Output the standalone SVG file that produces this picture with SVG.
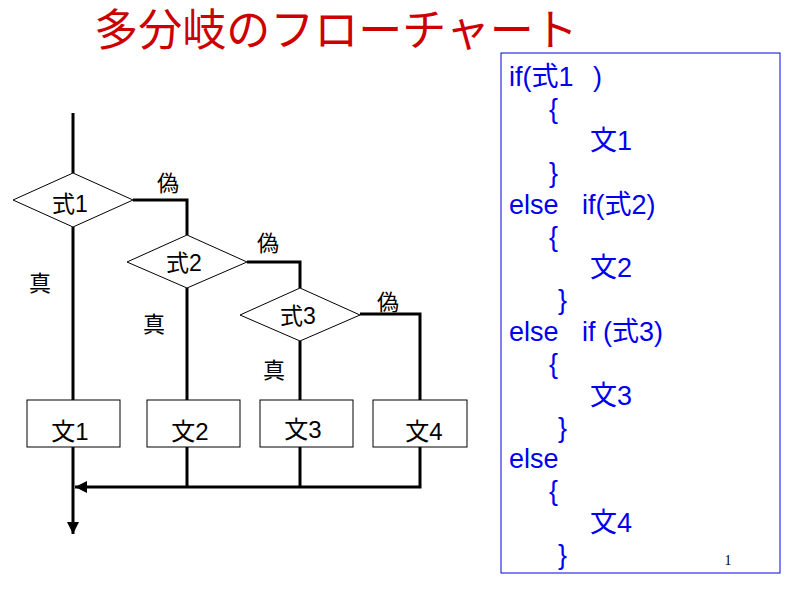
<svg xmlns="http://www.w3.org/2000/svg" width="800" height="600" viewBox="0 0 800 600">
<style>
.t{font-family:"Liberation Sans","Noto Sans CJK JP",sans-serif;fill:#000}
.n{font-size:24px;text-anchor:middle}
.dn{font-size:23px;text-anchor:middle}
.lb{font-size:22px;text-anchor:middle}
.c{font-family:"Liberation Sans","Noto Sans CJK JP",sans-serif;font-size:27px;fill:#0000EE}
.shape{fill:#fff;stroke:#000;stroke-width:1}
.ln{fill:none;stroke:#000;stroke-width:3}
</style>
<defs>
<marker id="ah" viewBox="0 0 10 10" refX="10" refY="5" markerWidth="4.3" markerHeight="4" orient="auto" markerUnits="strokeWidth">
<path d="M0,0 L10,5 L0,10 Z" fill="#000"/>
</marker>
</defs>
<rect width="800" height="600" fill="#fff"/>
<text x="336" y="46" text-anchor="middle" font-family="'Noto Sans CJK JP',sans-serif" font-size="44" fill="#CC0000">多分岐のフローチャート</text>

<g id="connectors">
<path class="ln" d="M73,113 V173"/>
<path class="ln" d="M73,227 V400"/>
<path class="ln" d="M73,447 V534" marker-end="url(#ah)"/>
<path class="ln" d="M133,200 H187 V235"/>
<path class="ln" d="M187,288 V400"/>
<path class="ln" d="M247,262 H300 V288"/>
<path class="ln" d="M300,341 V400"/>
<path class="ln" d="M360,314 H420 V400"/>
<path class="ln" d="M187,447 V487"/>
<path class="ln" d="M300,447 V487"/>
<path class="ln" d="M420,447 V487 H75" marker-end="url(#ah)"/>
</g>
<g id="labels">
<text class="t lb" x="168" y="191">偽</text>
<text class="t lb" x="268" y="251">偽</text>
<text class="t lb" x="388" y="310">偽</text>
<text class="t lb" x="40" y="291">真</text>
<text class="t lb" x="154" y="332">真</text>
<text class="t lb" x="274" y="378">真</text>
</g>
<g id="d1"><polygon class="shape" points="73,173 133,200 73,227 13,200"/><text class="t dn" x="70" y="212">式1</text></g>
<g id="d2"><polygon class="shape" points="187,235 247,262 187,288 127,262"/><text class="t dn" x="184" y="271">式2</text></g>
<g id="d3"><polygon class="shape" points="300,288 360,315 300,341 240,315"/><text class="t dn" x="298" y="324">式3</text></g>
<g id="b1"><rect class="shape" x="27" y="400" width="93" height="47"/><text class="t n" x="70" y="440">文1</text></g>
<g id="b2"><rect class="shape" x="147" y="400" width="93" height="47"/><text class="t n" x="190" y="440">文2</text></g>
<g id="b3"><rect class="shape" x="260" y="400" width="93" height="47"/><text class="t n" x="303" y="438">文3</text></g>
<g id="b4"><rect class="shape" x="373" y="400" width="94" height="47"/><text class="t n" x="424" y="440">文4</text></g>

<g id="code">
<rect x="501" y="53" width="279" height="520" fill="none" stroke="#0000EE" stroke-width="1"/>
<text class="c" x="509" y="86">if(式1</text><text class="c" x="593" y="86">)</text>
<text class="c" x="549" y="118">{</text>
<text class="c" x="590" y="150">文1</text>
<text class="c" x="549" y="182">}</text>
<text class="c" x="509" y="214">else</text><text class="c" x="582" y="214">if(式2)</text>
<text class="c" x="549" y="246">{</text>
<text class="c" x="590" y="277">文2</text>
<text class="c" x="558" y="309">}</text>
<text class="c" x="509" y="341">else</text><text class="c" x="582" y="341">if (式3)</text>
<text class="c" x="549" y="373">{</text>
<text class="c" x="590" y="405">文3</text>
<text class="c" x="558" y="437">}</text>
<text class="c" x="509" y="468">else</text>
<text class="c" x="549" y="500">{</text>
<text class="c" x="590" y="532">文4</text>
<text class="c" x="558" y="564">}</text>
<text x="728" y="565" font-family="'Liberation Serif',serif" font-size="14" fill="#000" text-anchor="middle">1</text>
</g>
</svg>
